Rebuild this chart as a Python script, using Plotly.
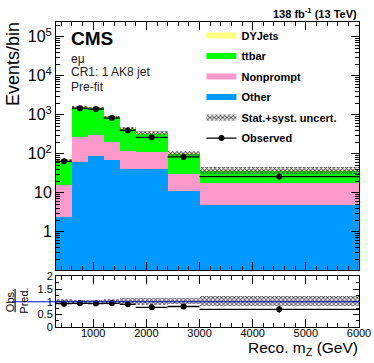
import numpy as np
import plotly.graph_objects as go

bin_edges = [300, 600, 900, 1200, 1500, 1800, 2400, 3000, 6000]
other = [2.4, 63, 88, 70, 40, 41, 11, 5.0]
nonprompt = [13.1, 199, 221, 125, 75, 67, 18.5, 12.7]
ttbar = [53.5, 1318, 1201, 685, 328, 232, 72.5, 19.3]
dyjets = [0.3, 2, 2, 1, 0.5, 0.5, 0.2, 0.1]
observed = [64, 1480, 1400, 825, 398, 265, 83, 26]
rel_unc = [0.07, 0.06, 0.06, 0.07, 0.11, 0.13, 0.12, 0.20]

y_tickvals = [1, 10, 100, 1000, 10000, 100000]
y_ticktext = ["1", "10", "10<sup>2</sup>", "10<sup>3</sup>", "10<sup>4</sup>", "10<sup>5</sup>"]

FONT = "Liberation Sans, Arial, sans-serif"

edges = np.array(bin_edges, dtype=float)
centers = (edges[:-1] + edges[1:]) / 2
widths = np.diff(edges)
obs = np.array(observed, dtype=float)

stack = [
    ("Other", other, "#0099ff"),
    ("Nonprompt", nonprompt, "#ff99cc"),
    ("ttbar", ttbar, "#00ff00"),
    ("DYJets", dyjets, "#ffff80"),
]

fig = go.Figure()

low = np.full(len(centers), 1e-3)
for name, vals, col in stack:
    v = np.array(vals, dtype=float)
    fig.add_trace(go.Bar(
        x=centers, y=v, base=low, width=widths, marker=dict(color=col, line=dict(width=0)),
        showlegend=False, hoverinfo="skip", xaxis="x", yaxis="y",
    ))
    low = low + v
total = low - 1e-3
unc = np.array(rel_unc)

hatch = dict(shape="x", size=3, solidity=0.5, fgcolor="#444444", bgcolor="rgba(0,0,0,0)")

fig.add_trace(go.Bar(
    x=centers, y=2 * total * unc, base=total * (1 - unc), width=widths,
    marker=dict(color="rgba(0,0,0,0)", line=dict(width=0), pattern=hatch),
    showlegend=False, hoverinfo="skip", xaxis="x", yaxis="y",
))

fig.add_trace(go.Scatter(
    x=centers, y=obs, mode="markers",
    marker=dict(color="black", size=6),
    error_x=dict(type="data", array=widths / 2, width=0, thickness=1.3, color="black"),
    error_y=dict(type="data", array=np.sqrt(obs), width=0, thickness=1.3, color="black"),
    showlegend=False, xaxis="x", yaxis="y",
))

# ratio panel
fig.add_trace(go.Bar(
    x=centers, y=2 * unc, base=1 - unc, width=widths,
    marker=dict(color="rgba(0,0,0,0)", line=dict(width=0), pattern=hatch),
    showlegend=False, hoverinfo="skip", xaxis="x2", yaxis="y2",
))
fig.add_trace(go.Scatter(
    x=centers, y=obs / total, mode="markers",
    marker=dict(color="black", size=6),
    error_x=dict(type="data", array=widths / 2, width=0, thickness=1.3, color="black"),
    error_y=dict(type="data", array=np.sqrt(obs) / total, width=0, thickness=1.3, color="black"),
    showlegend=False, xaxis="x2", yaxis="y2",
))

# legend entries (each in its own group so the gap spaces them out)
for name, vals, col in stack[::-1]:
    fig.add_trace(go.Scatter(x=[None], y=[None], mode="none", fill="toself", fillcolor=col,
                             name=name, legendgroup=name))
fig.add_trace(go.Scatter(x=[None], y=[None], mode="none", fill="toself", fillcolor="rgba(0,0,0,0)",
                         fillpattern=hatch, name="Stat.+syst. uncert.", legendgroup="unc"))
fig.add_trace(go.Scatter(x=[None], y=[None], mode="lines+markers", line=dict(color="black", width=1.3),
                         marker=dict(color="black", size=6), name="Observed", legendgroup="obs"))

fig.add_shape(type="line", xref="paper", yref="y2", x0=-0.145, x1=1, y0=1, y1=1,
              line=dict(color="#0000dd", width=1.2))

axis_common = dict(showline=True, linecolor="black", linewidth=1, mirror="allticks",
                   ticks="inside", tickcolor="black", showgrid=False, zeroline=False,
                   automargin=False)

fig.update_layout(
    template="none",
    width=374, height=363,
    paper_bgcolor="white", plot_bgcolor="white",
    margin=dict(l=56, r=15, t=22, b=36),
    barmode="overlay", bargap=0,
    font=dict(family=FONT, color="black"),
    xaxis=dict(range=[300, 6000], domain=[0, 1], anchor="y", showticklabels=False,
               dtick=1000, tick0=0, ticklen=8,
               minor=dict(ticks="inside", dtick=200, ticklen=4, tickcolor="black"),
               matches="x2", **axis_common),
    yaxis=dict(type="log", range=[-0.98, 5.38], domain=[0.187, 1], anchor="x",
               tickvals=y_tickvals, ticktext=y_ticktext, ticklen=8,
               tickfont=dict(size=16),
               minor=dict(ticks="inside", ticklen=4, tickcolor="black", dtick="D1"),
               **axis_common),
    xaxis2=dict(range=[300, 6000], domain=[0, 1], anchor="y2",
                dtick=1000, tick0=0, ticklen=8, tickfont=dict(size=11),
                ticklabelstandoff=-4,
                minor=dict(ticks="inside", dtick=200, ticklen=4, tickcolor="black"),
                **axis_common),
    yaxis2=dict(range=[0, 2], domain=[0, 0.1656], anchor="x2",
                tickvals=[0, 0.5, 1, 1.5, 2], ticktext=["0", "0.5", "1", "1.5", "2"],
                ticklen=6, tickfont=dict(size=11),
                minor=dict(ticks="inside", dtick=0.25, ticklen=3, tickcolor="black"),
                **axis_common),
    legend=dict(x=0.48, y=1.003, xanchor="left", yanchor="top", bgcolor="rgba(0,0,0,0)",
                font=dict(size=11, family=FONT, weight="bold"),
                itemwidth=30, traceorder="grouped", tracegroupgap=1.5),
    annotations=[
        dict(text="<b>CMS</b>", x=0.043, y=0.946, xref="paper", yref="paper",
             xanchor="left", yanchor="middle", showarrow=False, font=dict(size=19)),
        dict(text="eμ", x=0.043, y=0.879, xref="paper", yref="paper",
             xanchor="left", yanchor="middle", showarrow=False, font=dict(size=12, color="#222")),
        dict(text="CR1: 1 AK8 jet", x=0.043, y=0.836, xref="paper", yref="paper",
             xanchor="left", yanchor="middle", showarrow=False, font=dict(size=12, color="#222")),
        dict(text="Pre-fit", x=0.043, y=0.787, xref="paper", yref="paper",
             xanchor="left", yanchor="middle", showarrow=False, font=dict(size=12, color="#222")),
        dict(text="<b>138 fb<sup>-1</sup> (13 TeV)</b>", x=1, y=1.0305, xref="paper", yref="paper",
             xanchor="right", yanchor="middle", showarrow=False, font=dict(size=11)),
        dict(text="Reco. m<sub>Z</sub> (GeV)", x=1.003, y=-0.069, xref="paper", yref="paper",
             xanchor="right", yanchor="middle", showarrow=False, font=dict(size=15.5)),
        dict(text="Events/bin", x=-0.142, y=1.0066, xref="paper", yref="paper",
             xanchor="center", yanchor="top", textangle=-90, showarrow=False, font=dict(size=18)),
        dict(text="<u>Obs.</u><br>Pred.", x=-0.13, y=0.085, xref="paper", yref="paper",
             xanchor="center", yanchor="middle", textangle=-90, showarrow=False,
             font=dict(size=11)),
    ],
)

fig.write_html("out.html", config={"displayModeBar": False},
               post_script="document.body.style.margin='0';")
